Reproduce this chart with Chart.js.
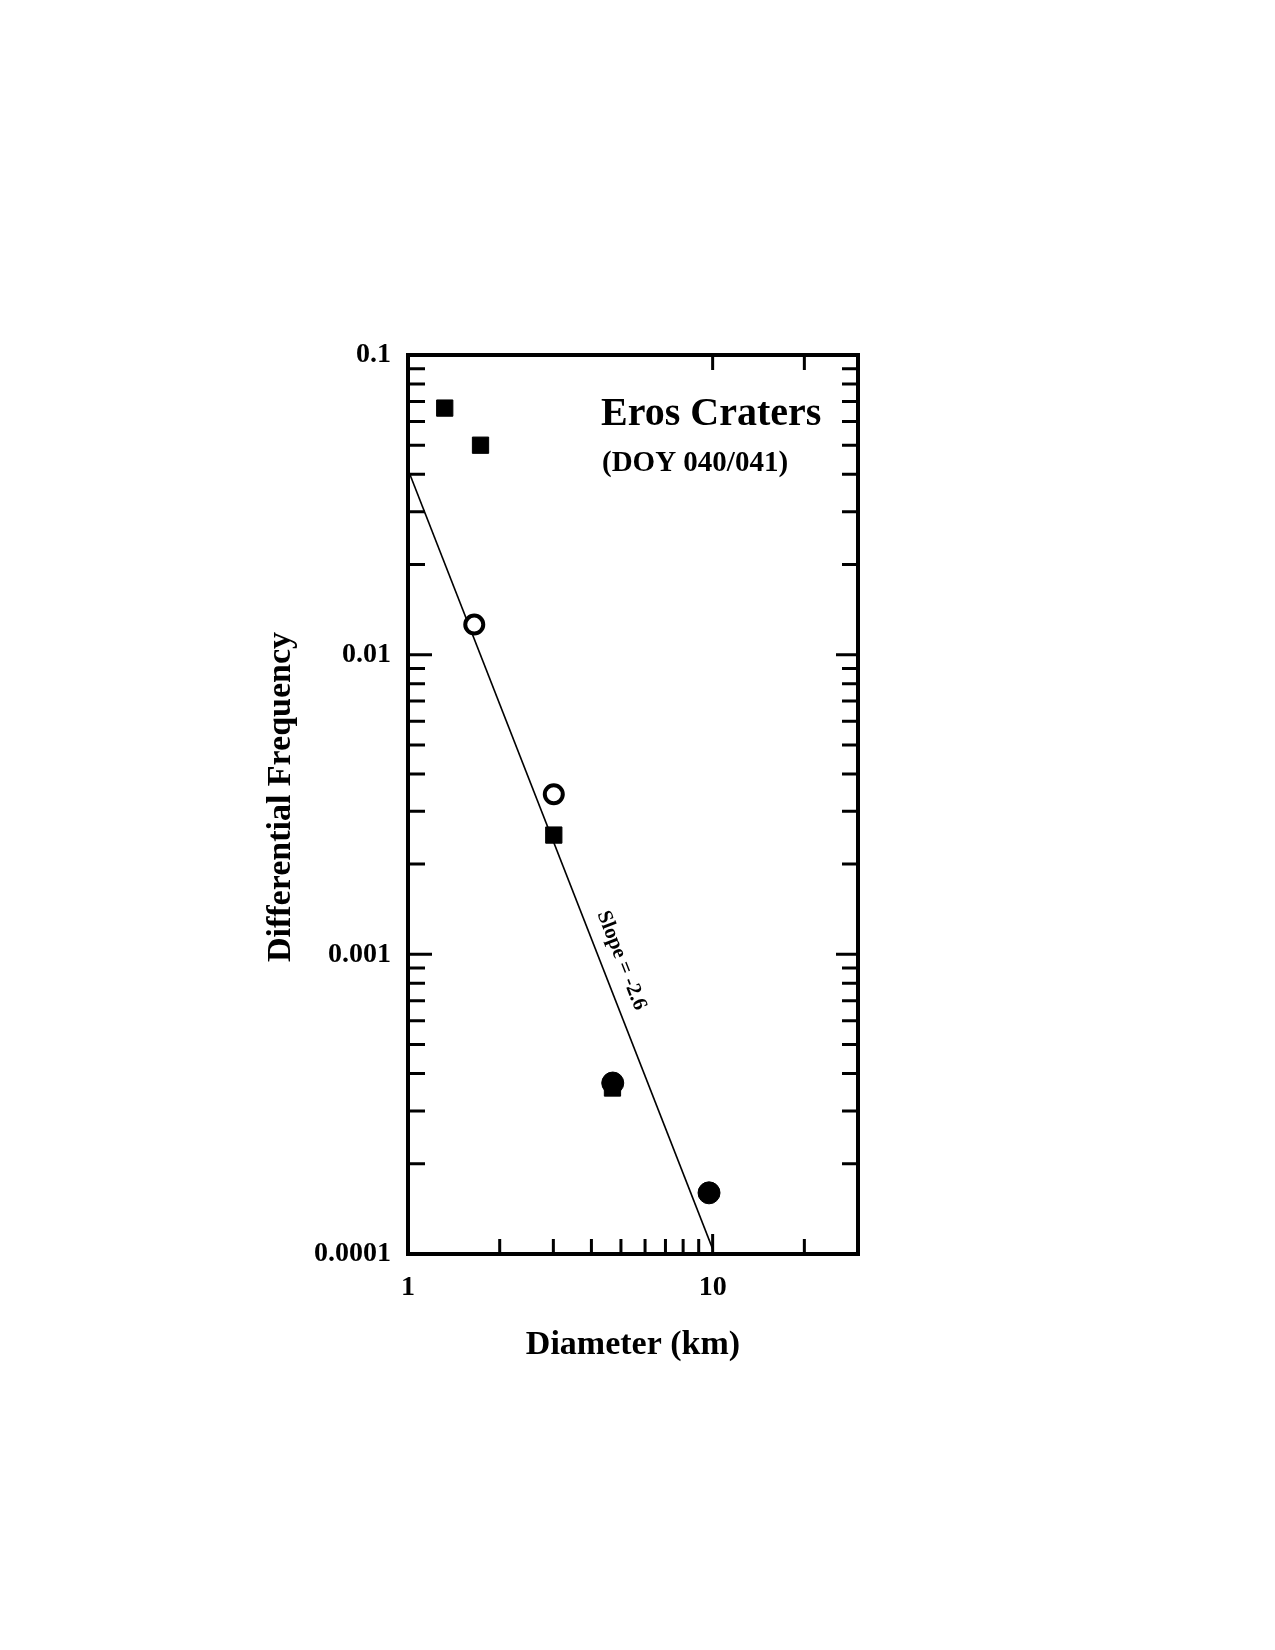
<!DOCTYPE html>
<html>
<head>
<meta charset="utf-8">
<script src="https://cdn.jsdelivr.net/npm/chart.js@4.4.1/dist/chart.umd.min.js"></script>
<style>
  body { margin: 0; background: #ffffff; }
  #wrap { width: 1275px; height: 1650px; }
</style>
</head>
<body>
<div id="wrap"><canvas id="chart" width="1275" height="1650"></canvas></div>
<script>
// data (diameter km, differential frequency)
var squareX = [1.32, 1.73, 3.01, 4.69];
var squareY = [0.0665, 0.0500, 0.00250, 0.000358];
var openX = [1.65, 3.01];
var openY = [0.0126, 0.00342];
var filledX = [4.70, 9.73];
var filledY = [0.000372, 0.000160];
var fitX = [1, 10];
var fitY = [0.0415, 0.000104];

var xTickValues = [1, 10];
var xTickLabels = ["1", "10"];
var yTickValues = [0.1, 0.01, 0.001, 0.0001];
var yTickLabels = ["0.1", "0.01", "0.001", "0.0001"];

var FONT = "'Liberation Serif', 'Times New Roman', serif";

function toPoints(xs, ys) {
    var pts = [];
    for (var i = 0; i < xs.length; i++) {
        pts.push({ x: xs[i], y: ys[i] });
    }
    return pts;
}

// frame, inward ticks and the text labels
var framePlugin = {
    id: "frame",
    afterDraw: function (chart) {
        var ctx = chart.ctx;
        var a = chart.chartArea;
        var xs = chart.scales.x;
        var ys = chart.scales.y;
        var i, m, p;

        ctx.save();
        ctx.strokeStyle = "#000";
        ctx.lineWidth = 3;
        ctx.beginPath();
        // y ticks, both sides
        var decades = [0.0001, 0.001, 0.01];
        for (i = 0; i < decades.length; i++) {
            for (m = 2; m <= 9; m++) {
                p = ys.getPixelForValue(decades[i] * m);
                ctx.moveTo(a.left, p); ctx.lineTo(a.left + 17, p);
                ctx.moveTo(a.right, p); ctx.lineTo(a.right - 16, p);
            }
        }
        for (i = 0; i < yTickValues.length; i++) {
            p = ys.getPixelForValue(yTickValues[i]);
            ctx.moveTo(a.left, p); ctx.lineTo(a.left + 24, p);
            ctx.moveTo(a.right, p); ctx.lineTo(a.right - 22, p);
        }
        // x ticks
        var xMinor = [2, 3, 4, 5, 6, 7, 8, 9, 20];
        for (i = 0; i < xMinor.length; i++) {
            p = xs.getPixelForValue(xMinor[i]);
            ctx.moveTo(p, a.bottom); ctx.lineTo(p, a.bottom - 15);
        }
        p = xs.getPixelForValue(10);
        ctx.moveTo(p, a.bottom); ctx.lineTo(p, a.bottom - 20);
        ctx.moveTo(p, a.top); ctx.lineTo(p, a.top + 15);
        p = xs.getPixelForValue(20);
        ctx.moveTo(p, a.top); ctx.lineTo(p, a.top + 15);
        ctx.stroke();

        ctx.lineWidth = 4;
        ctx.strokeRect(a.left, a.top, a.right - a.left, a.bottom - a.top);

        // titles
        ctx.fillStyle = "#000";
        ctx.textAlign = "left";
        ctx.textBaseline = "alphabetic";
        ctx.font = "bold 40px " + FONT;
        ctx.fillText("Eros Craters", 601, 425);
        ctx.font = "bold 29px " + FONT;
        ctx.fillText("(DOY 040/041)", 602, 471);

        ctx.textAlign = "center";
        ctx.font = "bold 34px " + FONT;
        ctx.fillText("Diameter (km)", (a.left + a.right) / 2, 1354);

        ctx.save();
        ctx.translate(290, 797);
        ctx.rotate(-Math.PI / 2);
        ctx.fillText("Differential Frequency", 0, 0);
        ctx.restore();

        // slope label along the fit line
        var x0 = xs.getPixelForValue(fitX[0]), y0 = ys.getPixelForValue(fitY[0]);
        var x1 = xs.getPixelForValue(fitX[1]), y1 = ys.getPixelForValue(fitY[1]);
        var ang = Math.atan2(y1 - y0, x1 - x0);
        var dx = Math.cos(ang), dy = Math.sin(ang);
        var t = (xs.getPixelForValue(4.36) - x0) / dx;
        var cx = x0 + dx * t + dy * 20;
        var cy = y0 + dy * t - dx * 20;
        ctx.save();
        ctx.translate(cx, cy);
        ctx.rotate(ang);
        ctx.textBaseline = "middle";
        ctx.font = "bold 21px " + FONT;
        ctx.fillText("Slope = -2.6", 0, 0);
        ctx.restore();

        ctx.restore();
    }
};

var ctx = document.getElementById("chart").getContext("2d");

new Chart(ctx, {
    type: "scatter",
    data: {
        datasets: [
            {
                label: "filled circles",
                data: toPoints(filledX, filledY),
                pointStyle: "circle",
                pointRadius: 11,
                backgroundColor: "#000",
                borderColor: "#000",
                borderWidth: 1
            },
            {
                label: "open circles",
                data: toPoints(openX, openY),
                pointStyle: "circle",
                pointRadius: 9,
                backgroundColor: "#fff",
                borderColor: "#000",
                borderWidth: 4
            },
            {
                label: "squares",
                data: toPoints(squareX, squareY),
                pointStyle: "rect",
                pointRadius: 11.5,
                backgroundColor: "#000",
                borderColor: "#000",
                borderWidth: 1
            },
            {
                label: "fit",
                data: toPoints(fitX, fitY),
                showLine: true,
                pointRadius: 0,
                borderColor: "#000",
                borderWidth: 1.6
            }
        ]
    },
    options: {
        responsive: false,
        animation: false,
        layout: { padding: { left: 0, top: 355, right: 417, bottom: 336 } },
        plugins: {
            legend: { display: false },
            tooltip: { enabled: false }
        },
        scales: {
            x: {
                type: "logarithmic",
                min: 1,
                max: 30,
                grid: { display: false, drawTicks: false },
                border: { display: false },
                afterBuildTicks: function (scale) {
                    scale.ticks = xTickValues.map(function (v) { return { value: v }; });
                },
                afterFit: function (scale) { scale.height = 60; },
                ticks: {
                    color: "#000",
                    padding: 17,
                    autoSkip: false,
                    maxRotation: 0,
                    font: { family: FONT, size: 28, weight: "bold" },
                    callback: function (value) {
                        var idx = xTickValues.indexOf(value);
                        return idx >= 0 ? xTickLabels[idx] : "";
                    }
                }
            },
            y: {
                type: "logarithmic",
                min: 0.0001,
                max: 0.1,
                grid: { display: false, drawTicks: false },
                border: { display: false },
                afterBuildTicks: function (scale) {
                    scale.ticks = yTickValues.map(function (v) { return { value: v }; });
                },
                afterFit: function (scale) { scale.width = 408; },
                ticks: {
                    color: "#000",
                    padding: 17,
                    autoSkip: false,
                    font: { family: FONT, size: 28, weight: "bold" },
                    callback: function (value) {
                        for (var i = 0; i < yTickValues.length; i++) {
                            if (Math.abs(value - yTickValues[i]) < yTickValues[i] * 1e-6) {
                                return yTickLabels[i];
                            }
                        }
                        return "";
                    }
                }
            }
        }
    },
    plugins: [framePlugin]
});
</script>
</body>
</html>
